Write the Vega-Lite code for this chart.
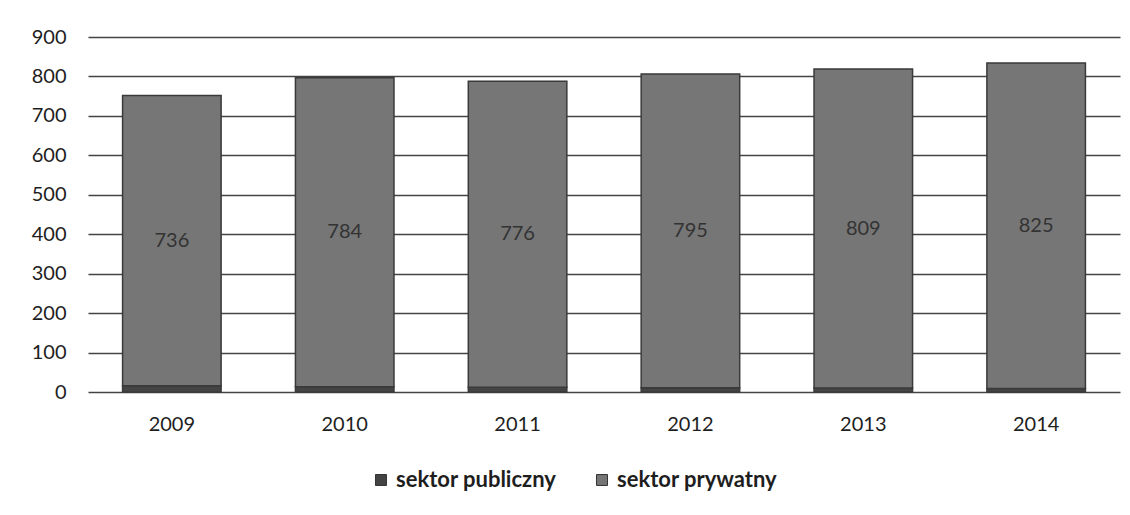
{
  "$schema": "https://vega.github.io/schema/vega-lite/v6.json",
  "width": 1032,
  "height": 355,
  "autosize": "none",
  "padding": {"left": 88, "top": 37, "right": 10, "bottom": 123},
  "background": "white",
  "config": {
    "view": {"stroke": null},
    "font": "Lato",
    "axisY": {
      "title": null,
      "values": [0, 100, 200, 300, 400, 500, 600, 700, 800, 900],
      "labelOverlap": false,
      "grid": true,
      "gridColor": "#444444",
      "gridWidth": 1.5,
      "ticks": false,
      "domain": false,
      "labelFontSize": 20,
      "labelColor": "#1e1e1e",
      "labelPadding": 22
    }
  },
  "data": {
    "values": [
      {"year": "2009", "sector": "sektor publiczny", "value": 16},
      {"year": "2009", "sector": "sektor prywatny", "value": 736},
      {"year": "2010", "sector": "sektor publiczny", "value": 13},
      {"year": "2010", "sector": "sektor prywatny", "value": 784},
      {"year": "2011", "sector": "sektor publiczny", "value": 12},
      {"year": "2011", "sector": "sektor prywatny", "value": 776},
      {"year": "2012", "sector": "sektor publiczny", "value": 11},
      {"year": "2012", "sector": "sektor prywatny", "value": 795},
      {"year": "2013", "sector": "sektor publiczny", "value": 10},
      {"year": "2013", "sector": "sektor prywatny", "value": 809},
      {"year": "2014", "sector": "sektor publiczny", "value": 9},
      {"year": "2014", "sector": "sektor prywatny", "value": 825}
    ]
  },
  "transform": [
    {"calculate": "datum.sector === 'sektor publiczny' ? 0 : 1", "as": "ord"},
    {"stack": "value", "groupby": ["year"], "sort": [{"field": "ord", "order": "ascending"}], "as": ["v0", "v1"]},
    {"calculate": "(datum.v0 + datum.v1) / 2", "as": "mid"}
  ],
  "encoding": {
    "x": {
      "field": "year",
      "type": "ordinal",
      "scale": {"paddingInner": 0.43, "paddingOuter": 0.2},
      "axis": {
        "title": null,
        "labelAngle": 0,
        "labelFontSize": 20,
        "labelColor": "#1e1e1e",
        "labelPadding": 22,
        "ticks": false,
        "domain": false
      }
    }
  },
  "layer": [
    {
      "mark": {"type": "bar", "stroke": "#3a3a3a", "strokeWidth": 1.5},
      "encoding": {
        "y": {
          "field": "v0",
          "type": "quantitative",
          "scale": {"domain": [0, 900]},
          "axis": {"values": [0, 100, 200, 300, 400, 500, 600, 700, 800, 900], "labelOverlap": false}
        },
        "y2": {"field": "v1"},
        "color": {
          "field": "sector",
          "type": "nominal",
          "scale": {
            "domain": ["sektor publiczny", "sektor prywatny"],
            "range": ["#444444", "#767676"]
          },
          "legend": {
            "title": null,
            "orient": "none",
            "legendX": 282,
            "legendY": 432,
            "direction": "horizontal",
            "labelFontSize": 22,
            "labelFontWeight": "bold",
            "labelColor": "#1e1e1e",
            "labelLimit": 400,
            "symbolType": "square",
            "symbolSize": 120,
            "symbolStrokeColor": "#333333",
            "symbolStrokeWidth": 1,
            "columnPadding": 34
          }
        }
      }
    },
    {
      "transform": [{"filter": "datum.sector === 'sektor prywatny'"}],
      "mark": {"type": "text", "fontSize": 20, "color": "#333333"},
      "encoding": {
        "y": {
          "field": "mid",
          "type": "quantitative",
          "axis": {"values": [0, 100, 200, 300, 400, 500, 600, 700, 800, 900], "labelOverlap": false}
        },
        "text": {"field": "value", "type": "quantitative"}
      }
    }
  ]
}
